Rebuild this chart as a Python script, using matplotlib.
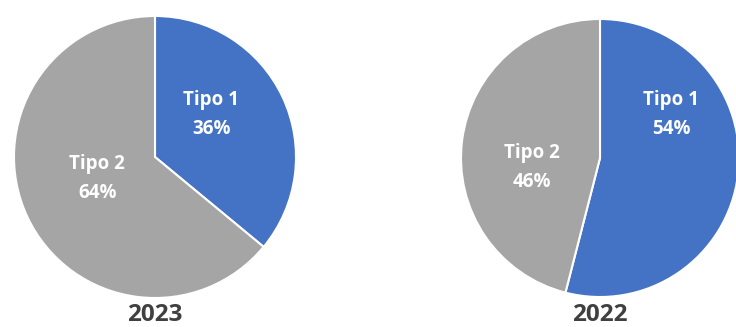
import matplotlib
matplotlib.use("Agg")
import matplotlib.pyplot as plt

years = ["2023", "2022"]
categories = ["Tipo 1", "Tipo 2"]
shares_2023 = [36, 64]
shares_2022 = [54, 46]
colors = ["#4472C4", "#A5A5A5"]

W, H = 736, 327
fig = plt.figure(figsize=(W / 100, H / 100), dpi=100, facecolor="white")
plt.rcParams["font.family"] = ["Open Sans", "DejaVu Sans"]

# pixel geometry of each pie: center x, center y, radius
pies = [
    (155, 157, 141, shares_2023, [(0.40, 0.30), (-0.41, -0.15)]),
    (600, 158, 139, shares_2022, [(0.51, 0.31), (-0.49, -0.07)]),
]

for (cx, cy, r, vals, label_pos), year in zip(pies, years):
    ax = fig.add_axes([(cx - r) / W, (H - cy - r) / H, 2 * r / W, 2 * r / H])
    ax.pie(vals, colors=colors, startangle=90, counterclock=False,
           radius=1, wedgeprops=dict(edgecolor="white", linewidth=1.5))
    ax.set_xlim(-1, 1)
    ax.set_ylim(-1, 1)
    ax.set_aspect("equal")
    ax.axis("off")
    for cat, v, (lx, ly) in zip(categories, vals, label_pos):
        ax.text(lx, ly, f"{cat}\n{v}%", ha="center", va="center", color="white",
                fontsize=13.5, fontweight="bold", linespacing=1.6)
    fig.text(cx / W, 1 - 315 / H, year, ha="center", va="center",
             fontsize=17.5, fontweight="bold", color="#404040")

fig.savefig("out.png", dpi=100, facecolor="white")
